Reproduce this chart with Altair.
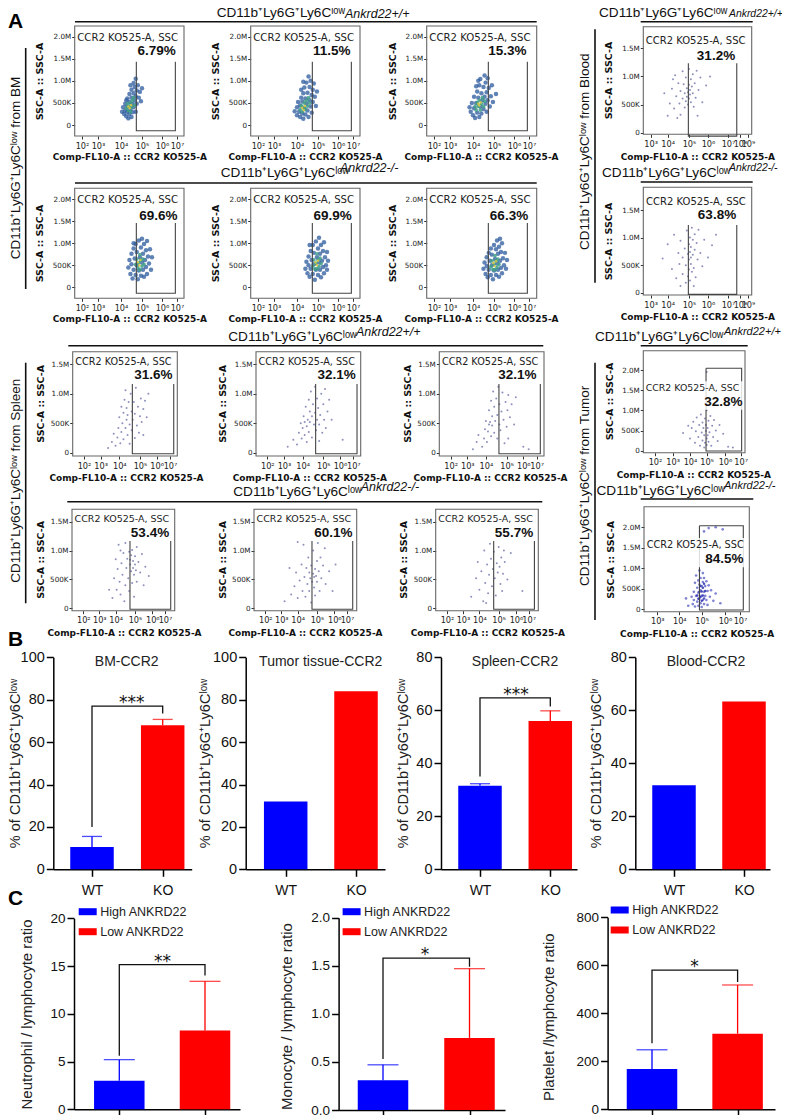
import altair as alt

SANS = "Liberation Sans"
FLOW = "DejaVu Sans"
CELL = "CD11b⁺Ly6G⁺Ly6Cˡᵒʷ"

# ---------- values ----------
# flow cytometry: (log10 CCR2 signal, SSC in thousands)
BM_WT1_LOW = [(4.05,300),(4.1,400),(4.15,250),(4.2,330),(4.2,480),(4.25,200),(4.3,300),(4.3,420),(4.3,600),(4.35,150),(4.4,250),(4.4,520),(4.4,700),(4.45,350),(4.5,180),(4.5,620),(4.5,800),(4.55,290),(4.55,480),(4.6,400),(4.6,720),(4.6,950),(4.65,560),(4.65,860),(4.7,300),(4.7,650),(4.7,1050),(4.75,480),(4.75,780),(4.8,900),(4.85,620),(4.9,750),(4.95,540),(5.0,830),(4.25,560),(4.45,900)]
BM_WT1_MID = [(4.25,380),(4.3,480),(4.35,330),(4.4,420),(4.45,300),(4.45,500),(4.5,400),(4.55,560),(4.6,620),(4.65,450)]
BM_WT1_CORE = [(4.35,420),(4.42,380),(4.48,450)]
BM_WT2_LOW = [(3.9,310),(4.0,220),(4.0,400),(4.05,520),(4.1,300),(4.15,180),(4.15,440),(4.2,620),(4.25,260),(4.25,530),(4.3,140),(4.3,720),(4.35,380),(4.35,850),(4.4,240),(4.4,600),(4.45,480),(4.45,960),(4.5,330),(4.5,730),(4.55,1100),(4.55,180),(4.6,560),(4.6,860),(4.65,420),(4.65,1000),(4.7,680),(4.7,280),(4.75,800),(4.75,520),(4.8,940),(4.85,640),(4.2,800),(4.9,430),(4.95,760),(4.3,980)]
BM_WT2_MID = [(4.15,350),(4.2,440),(4.25,300),(4.3,400),(4.35,500),(4.4,350),(4.45,560),(4.5,430),(4.55,620),(4.6,500)]
BM_WT2_CORE = [(4.25,390),(4.32,340),(4.38,430)]
BM_WT3_LOW = [(3.85,400),(3.9,300),(3.95,500),(4.0,220),(4.05,380),(4.05,640),(4.1,160),(4.15,500),(4.2,280),(4.2,760),(4.25,620),(4.3,180),(4.3,900),(4.35,420),(4.35,1040),(4.4,720),(4.4,260),(4.45,560),(4.5,860),(4.5,360),(4.55,1120),(4.55,640),(4.6,480),(4.6,960),(4.65,300),(4.65,740),(4.7,560),(4.7,1060),(4.75,840),(4.8,420),(4.85,650),(4.9,900),(4.95,520),(5.1,700),(4.15,880),(4.25,1000)]
BM_WT3_MID = [(4.1,420),(4.15,340),(4.2,500),(4.25,420),(4.3,560),(4.35,340),(4.4,480),(4.45,620),(4.5,420),(4.55,540)]
BM_WT3_CORE = [(4.25,480),(4.3,440),(4.37,510)]
BM_KO1_LOW = [(4.35,450),(4.4,620),(4.45,300),(4.5,520),(4.5,760),(4.55,200),(4.6,400),(4.6,880),(4.65,650),(4.7,280),(4.7,980),(4.75,500),(4.75,800),(4.8,180),(4.85,380),(4.85,1060),(4.9,680),(4.95,260),(4.95,900),(5.0,560),(5.0,1100),(5.05,400),(5.05,760),(5.1,240),(5.1,980),(5.15,620),(5.2,460),(5.2,840),(5.25,300),(5.25,1050),(5.3,700),(5.35,540),(5.4,860),(5.45,400),(5.5,680),(4.6,1000)]
BM_KO1_MID = [(4.7,520),(4.75,640),(4.8,440),(4.85,560),(4.9,400),(4.9,740),(4.95,620),(5.0,480),(5.05,640),(5.1,520)]
BM_KO1_CORE = [(4.8,570),(4.87,500),(4.93,620)]
BM_KO2_LOW = [(4.4,420),(4.45,580),(4.5,320),(4.55,500),(4.55,700),(4.6,240),(4.65,420),(4.65,820),(4.7,620),(4.75,300),(4.75,960),(4.8,520),(4.8,780),(4.85,170),(4.9,400),(4.9,1040),(4.95,680),(5.0,280),(5.0,880),(5.05,560),(5.05,1120),(5.1,400),(5.1,760),(5.15,230),(5.15,960),(5.2,600),(5.25,460),(5.25,820),(5.3,320),(5.3,1020),(5.35,680),(5.4,500),(5.45,800),(5.5,600),(4.6,960),(5.45,400)]
BM_KO2_MID = [(4.75,480),(4.8,620),(4.85,420),(4.9,540),(4.95,420),(4.95,760),(5.0,620),(5.05,470),(5.1,660),(5.15,540)]
BM_KO2_CORE = [(4.88,560),(4.95,500),(5.0,600)]
BM_KO3_LOW = [(4.5,420),(4.55,560),(4.6,300),(4.65,480),(4.65,680),(4.7,230),(4.75,400),(4.75,780),(4.8,600),(4.85,280),(4.85,880),(4.9,500),(4.9,740),(4.95,180),(5.0,380),(5.0,960),(5.05,640),(5.1,280),(5.1,860),(5.15,540),(5.15,1060),(5.2,400),(5.2,760),(5.25,240),(5.25,920),(5.3,600),(5.35,440),(5.35,800),(5.4,320),(5.4,1000),(5.45,660),(5.5,500),(5.55,780),(5.6,420),(5.65,620),(5.3,1100)]
BM_KO3_MID = [(4.85,460),(4.9,600),(4.95,400),(5.0,520),(5.05,400),(5.05,720),(5.1,600),(5.15,450),(5.2,640),(5.25,520)]
BM_KO3_CORE = [(4.97,550),(5.03,480),(5.1,590)]
BLOOD_WT = [(4.0,300),(4.1,520),(4.2,780),(4.3,430),(4.35,1020),(4.4,650),(4.45,260),(4.5,880),(4.55,520),(4.6,740),(4.6,320),(4.7,1090),(4.7,610),(4.75,860),(4.8,450),(4.8,700),(4.85,980),(4.85,560),(4.9,790),(4.9,640),(4.95,720),(4.95,500),(5.0,850),(5.0,610),(5.0,1130),(5.05,760),(5.05,680),(5.1,540),(5.1,950),(5.15,820),(5.2,1040),(5.2,700),(5.25,460),(5.3,880),(5.35,620),(5.4,1100),(5.5,760),(5.6,980),(5.7,540),(5.9,840),(6.1,1000),(3.8,700),(4.25,950),(5.45,300)]
BLOOD_KO = [(3.7,620),(4.0,880),(4.2,430),(4.3,1050),(4.4,260),(4.5,720),(4.55,520),(4.6,940),(4.7,340),(4.7,640),(4.8,800),(4.85,180),(4.85,500),(4.9,1130),(4.95,700),(4.95,300),(5.0,880),(5.0,420),(5.0,600),(5.05,1000),(5.05,740),(5.05,220),(5.1,520),(5.1,830),(5.1,640),(5.15,380),(5.15,1180),(5.2,960),(5.2,690),(5.25,450),(5.3,1060),(5.3,780),(5.35,280),(5.4,900),(5.45,600),(5.5,1140),(5.6,720),(5.7,480),(5.8,960),(6.0,640),(6.2,860),(6.4,1050),(4.6,120),(5.25,120)]
SPL_WT1 = [(3.4,80),(3.6,180),(3.7,320),(3.8,120),(3.9,260),(3.95,420),(4.0,600),(4.05,160),(4.1,350),(4.1,780),(4.15,500),(4.2,230),(4.2,680),(4.25,900),(4.3,420),(4.3,1060),(4.35,560),(4.35,760),(4.4,300),(4.4,640),(4.45,860),(4.5,150),(4.5,480),(4.55,1000),(4.6,700),(4.6,380),(4.65,560),(4.7,860),(4.75,250),(4.75,660),(4.8,1100),(4.85,460),(4.9,780),(4.95,340),(5.0,620),(5.05,920),(5.1,520),(5.2,740),(5.3,880),(5.4,600),(5.5,1000),(5.2,300)]
SPL_WT2 = [(3.2,100),(3.5,220),(3.7,140),(3.8,340),(3.9,500),(3.95,240),(4.0,420),(4.05,620),(4.1,300),(4.1,520),(4.15,780),(4.2,180),(4.2,450),(4.25,560),(4.3,900),(4.3,350),(4.35,700),(4.35,520),(4.4,1040),(4.45,260),(4.45,620),(4.5,820),(4.55,480),(4.6,1120),(4.6,680),(4.65,380),(4.7,560),(4.7,920),(4.75,760),(4.8,200),(4.8,480),(4.85,640),(4.9,1000),(4.95,340),(5.0,820),(5.05,560),(5.1,1080),(5.15,420),(5.25,700),(5.35,900),(5.5,560),(6.2,220)]
SPL_WT3 = [(3.3,60),(3.5,180),(3.6,300),(3.8,100),(3.9,240),(3.95,400),(4.0,540),(4.05,180),(4.1,360),(4.15,480),(4.15,720),(4.2,520),(4.25,280),(4.25,880),(4.3,460),(4.3,620),(4.35,1040),(4.4,340),(4.4,780),(4.45,540),(4.5,920),(4.55,240),(4.55,640),(4.6,1120),(4.65,480),(4.65,820),(4.7,380),(4.75,700),(4.8,1020),(4.85,560),(4.9,160),(4.95,860),(5.0,440),(5.05,720),(5.1,980),(5.2,600),(5.3,820),(5.45,480),(5.55,940),(5.1,240),(6.0,100),(6.4,60)]
SPL_KO1 = [(3.6,320),(3.8,180),(3.9,520),(4.0,850),(4.05,320),(4.1,680),(4.15,1100),(4.2,460),(4.25,240),(4.3,780),(4.35,580),(4.4,960),(4.45,120),(4.5,400),(4.5,1130),(4.55,700),(4.6,860),(4.65,520),(4.7,980),(4.7,300),(4.75,760),(4.75,840),(4.8,640),(4.8,920),(4.85,1010),(4.85,440),(4.9,700),(4.9,820),(4.95,580),(4.95,200),(5.0,760),(5.0,900),(5.05,660),(5.1,460),(5.1,1060),(5.2,800),(5.3,620),(5.4,940),(5.5,400),(5.6,720),(5.8,560),(4.25,1000)]
SPL_KO2 = [(3.2,120),(3.6,240),(3.8,380),(3.9,620),(4.0,180),(4.1,480),(4.2,760),(4.25,300),(4.3,1100),(4.35,540),(4.4,200),(4.45,700),(4.5,420),(4.55,880),(4.6,620),(4.6,300),(4.65,520),(4.7,740),(4.7,100),(4.75,460),(4.8,600),(4.8,1000),(4.85,540),(4.85,360),(4.9,680),(4.9,220),(4.95,560),(5.0,820),(5.0,460),(5.05,1130),(5.1,640),(5.15,300),(5.2,880),(5.25,520),(5.35,740),(5.45,1040),(5.5,420),(5.7,640),(5.9,300),(6.1,760),(4.0,1150),(3.5,700)]
SPL_KO3 = [(3.5,200),(3.8,520),(3.9,800),(4.0,320),(4.1,640),(4.2,120),(4.25,1000),(4.3,440),(4.4,760),(4.45,260),(4.5,580),(4.55,1120),(4.6,860),(4.65,380),(4.7,680),(4.75,980),(4.8,520),(4.85,220),(4.9,780),(4.95,620),(5.0,1060),(5.05,720),(5.1,420),(5.15,880),(5.2,300),(5.25,600),(5.35,800),(5.5,500),(5.7,960),(6.5,300),(4.35,90),(5.3,1000)]
TUM_WT = [(3.6,440),(3.9,620),(4.0,300),(4.1,560),(4.2,720),(4.3,200),(4.35,480),(4.4,820),(4.5,340),(4.55,640),(4.6,120),(4.65,900),(4.7,450),(4.75,250),(4.75,700),(4.8,560),(4.85,80),(4.85,380),(4.9,800),(4.9,200),(4.95,490),(4.95,640),(5.0,300),(5.0,1000),(5.0,140),(5.05,560),(5.05,380),(5.1,740),(5.1,220),(5.15,460),(5.2,860),(5.25,120),(5.3,620),(5.35,340),(5.4,760),(5.5,500),(5.6,240),(5.7,640),(5.9,420),(6.2,100),(6.5,80),(5.0,1950)]
TUM_KO_LOW = [(4.55,300),(4.6,120),(4.65,420),(4.65,220),(4.7,640),(4.7,60),(4.75,320),(4.75,820),(4.8,520),(4.8,180),(4.85,700),(4.85,400),(4.85,80),(4.9,260),(4.9,600),(4.9,940),(4.95,460),(4.95,140),(4.95,760),(5.0,320),(5.0,560),(5.0,50),(5.05,660),(5.05,220),(5.05,880),(5.1,420),(5.1,120),(5.1,760),(5.15,320),(5.15,560),(5.2,220),(5.2,680),(5.25,440),(5.25,100),(5.3,580),(5.35,300),(5.4,460),(5.5,200),(5.6,380),(5.8,140),(4.3,260),(4.4,80),(5.3,1980),(5.6,2000),(5.9,1950),(5.1,1900)]
TUM_KO_MID = [(4.8,330),(4.85,250),(4.9,420),(4.95,300),(4.95,560),(5.0,200),(5.0,430),(5.05,330),(5.05,520),(5.1,260),(5.1,620),(5.15,440)]

GATE_BM = (4.73, 6.89)
GATES = {
    "bm1": (-130, 1430), "bm2": (-135, 1457), "bl1": (-60, 1233), "bl2": (-30, 1228),
    "sp1": (-17, 1166), "sp2": (-17, 1166), "tu1": (-7, 2042), "tu2": (-24, 2039),
}
PCT = ["6.79%", "11.5%", "15.3%", "69.6%", "69.9%", "66.3%", "31.2%", "63.8%",
       "31.6%", "32.1%", "32.1%", "53.4%", "60.1%", "55.7%", "32.8%", "84.5%"]

B_TITLES = ["BM-CCR2", "Tumor tissue-CCR2", "Spleen-CCR2", "Blood-CCR2"]
B_WT = [10.5, 32, 31.5, 31.7]
B_KO = [68, 84, 56, 63.3]
B_WT_ERR = [15.5, None, 32.3, None]
B_KO_ERR = [70.7, None, 59.8, None]
C_TITLES = ["Neutrophil / lymphocyte ratio", "Monocyte / lymphocyte ratio", "Platelet /lymphocyte ratio"]
C_HIGH = [3.0, 0.31, 168]
C_LOW = [8.25, 0.75, 315]
C_HIGH_ERR = [5.2, 0.47, 248]
C_LOW_ERR = [13.4, 1.47, 518]

W, H = 774, 1107
layers = []


def px(v):
    return v - 8


def txt(s, x, y, size=13, font=SANS, weight="normal", style="normal", align="left", angle=0, color="#111"):
    return alt.Chart(alt.Data(values=[{"t": s}])).mark_text(
        fontSize=size, font=font, fontWeight=weight, fontStyle=style, align=align,
        baseline="middle", angle=angle, color=color,
    ).encode(text="t:N", x=alt.value(px(x)), y=alt.value(px(y)))


def hline(x0, x1, y):
    return alt.Chart(alt.Data(values=[{"a": 1}])).mark_rule(color="#111", strokeWidth=1.6).encode(
        x=alt.value(px(x0)), x2=alt.value(px(x1)), y=alt.value(px(y)))


def vline(x, y0, y1):
    return alt.Chart(alt.Data(values=[{"a": 1}])).mark_rule(color="#111", strokeWidth=1.6).encode(
        x=alt.value(px(x)), y=alt.value(px(y0)), y2=alt.value(px(y1)))


def heading(x0, xi, y, tag, line, isize=12.5):
    layers.append(txt(CELL, x0, y, size=13.6))
    layers.append(txt("Ankrd22" + tag, xi, max(y - 5, 14), size=isize, style="italic"))
    layers.append(hline(*line))


def flow(L, R, T, B, y0, ytop, yv, xvals, xrel, ds, gate_x, gate_y, pct, lab, pcp, xtitle, ytitle, box=False):
    lo = xvals[0] - xrel[0] / (xrel[1] - xrel[0])
    hi = xvals[-1] + (R - L - xrel[-1]) / (xrel[-1] - xrel[-2])
    xs = alt.Scale(domain=[lo] + xvals + [hi], range=[px(L)] + [px(L + r) for r in xrel] + [px(R)])
    per = (y0 - ytop) / yv
    ydom = [(y0 - B) / per, (y0 - T) / per]
    ys = alt.Scale(domain=ydom, range=[px(B), px(T)], nice=False, zero=False)
    supers = "['⁰','¹','²','³','⁴','⁵','⁶','⁷','⁸','⁹'][datum.value]"
    xaxis = alt.Axis(orient="bottom", offset=px(B) - H, values=xvals, labelExpr="'10' + " + supers,
                     labelFont=FLOW, labelFontSize=8.2, labelColor="#222", tickSize=3, tickColor="#333",
                     domain=False, grid=False, labelPadding=3, labelOverlap=False,
                     title="Comp-FL10-A :: CCR2 KO525-A", titleFont=FLOW, titleFontSize=9, titleFontWeight="bold",
                     titleColor="#111", titleX=px(xtitle[0]), titleY=xtitle[1] - B, titleBaseline="middle", titleAlign="center")
    yvals = [v for v in [0, 500, 1000, 1500, 2000] if v <= ydom[1]]
    yaxis = alt.Axis(orient="left", offset=-px(L), values=yvals,
                     labelExpr="datum.value == 0 ? '0' : datum.value == 500 ? '500K' : format(datum.value / 1000, '.1f') + 'M'",
                     labelFont=FLOW, labelFontSize=7.2, labelColor="#222", tickSize=3, tickColor="#333",
                     domain=False, grid=False, labelPadding=1,
                     title="SSC-A :: SSC-A", titleFont=FLOW, titleFontSize=9.5, titleFontWeight="bold", titleColor="#111",
                     titleX=ytitle[0] - L, titleY=px(ytitle[1]), titleBaseline="middle", titleAlign="center")
    X = lambda f, a=None: alt.X(f + ":Q", scale=xs, axis=a)
    Y = lambda f, a=None: alt.Y(f + ":Q", scale=ys, axis=a)
    panel = []
    frame = alt.Chart(alt.Data(values=[{"x": lo, "x2": hi, "y": ydom[0], "y2": ydom[1]}])).mark_rect(
        fillOpacity=0, stroke="#666", strokeWidth=1.1
    ).encode(x=X("x", xaxis), x2="x2:Q", y=Y("y", yaxis), y2="y2:Q")
    panel.append(frame)
    for pts, color, size, op in ds:
        panel.append(alt.Chart(alt.Data(values=[{"x": a, "y": b} for a, b in pts])).mark_circle(
            size=size, color=color, opacity=op).encode(x=X("x"), y=Y("y")))
    if box:
        g = [(gate_x[0], gate_y[1]), (gate_x[0], gate_y[0]), (gate_x[1], gate_y[0]), (gate_x[1], gate_y[1]), (gate_x[0], gate_y[1])]
    else:
        g = [(gate_x[0], gate_y[1]), (gate_x[0], gate_y[0]), (gate_x[1], gate_y[0]), (gate_x[1], gate_y[1])]
    panel.append(alt.Chart(alt.Data(values=[{"x": a, "y": b, "i": i} for i, (a, b) in enumerate(g)])).mark_line(
        color="#444", strokeWidth=1.1).encode(x=X("x"), y=Y("y"), order="i:Q"))
    if box:
        panel.append(alt.Chart(alt.Data(values=[{"a": 1}])).mark_rect(color="white", opacity=0.82).encode(
            x=alt.value(px(lab[0])), x2=alt.value(px(R - 1)), y=alt.value(px(lab[1] - 7)), y2=alt.value(px(pcp[1] + 8))))
    layers.extend(panel)
    layers.append(txt("CCR2 KO525-A, SSC", lab[0], lab[1], size=(R - L) * 0.0925, font=FLOW, color="#222"))
    layers.append(txt(pct, pcp[0], pcp[1], size=13.5, weight="bold", align="center"))


LOW, MID, CORE, SPARSE = "#2b5a9e", "#3f9f86", "#d8c640", "#7f84b4"
def dense(low, mid, core):
    return [(low, LOW, 20, 0.75), (mid, MID, 14, 0.85), (core, CORE, 6, 0.9)]
def sparse(p):
    return [(p, SPARSE, 4, 0.9)]

X2 = [2, 3, 4, 5, 6, 7]
BMREL = [7.3, 23.3, 46.3, 67.3, 87.3, 102.3]
row1 = [(74.7, 184), (250.7, 360), (426.7, 536.7)]
sets1 = [(BM_WT1_LOW, BM_WT1_MID, BM_WT1_CORE), (BM_WT2_LOW, BM_WT2_MID, BM_WT2_CORE), (BM_WT3_LOW, BM_WT3_MID, BM_WT3_CORE)]
sets2 = [(BM_KO1_LOW, BM_KO1_MID, BM_KO1_CORE), (BM_KO2_LOW, BM_KO2_MID, BM_KO2_CORE), (BM_KO3_LOW, BM_KO3_MID, BM_KO3_CORE)]
pc1 = [156.7, 331.7, 507.3]
pc2 = [158.3, 332.7, 509]
ytx = [39.3, 215.7, 392]
xtx = [129.3, 305, 481]
for i, (L, R) in enumerate(row1):
    flow(L, R, 26, 136, 125, 36.7, 2000, X2, BMREL, dense(*sets1[i]), GATE_BM, GATES["bm1"], PCT[i],
         (L + 2.6, 37.7), (pc1[i], 51), (xtx[i], 156.7), (ytx[i], 81))
    flow(L, R, 188.3, 298.3, 287.3, 199, 2000, X2, BMREL, dense(*sets2[i]), GATE_BM, GATES["bm2"], PCT[i + 3],
         (L + 2.6, 200), (pc2[i], 216), (xtx[i], 318), (ytx[i], 243))

X3 = [3, 4, 5, 6, 7, 8, 9]
BLREL = [7.4, 24.4, 45.7, 64.7, 84.7, 96.7, 104.7]
flow(643.3, 751.7, 26.7, 134.3, 132.7, 48.3, 1500, X3, BLREL, sparse(BLOOD_WT), (4.97, 7.73), GATES["bl1"], PCT[6],
     (645.7, 40.7), (716, 55.7), (697.3, 156.7), (608, 80))
flow(643.3, 751.7, 187.3, 295, 292.7, 210, 1500, X3, BLREL, sparse(BLOOD_KO), (4.97, 7.73), GATES["bl2"], PCT[7],
     (646, 201.7), (717, 215), (697.3, 316.7), (608, 241))

SP1 = [11.3, 28, 46.6, 67.3, 84, 97.3]
SP2 = [11.3, 27.3, 43.7, 63, 80.3, 93]
sp1 = [(72.7, 177.3), (256, 360.7), (439.3, 544)]
sp2 = [(72, 174.7), (254, 356.7), (435.7, 538.3)]
s1 = [SPL_WT1, SPL_WT2, SPL_WT3]
s2 = [SPL_KO1, SPL_KO2, SPL_KO3]
pc3 = [153.3, 336.7, 517.3]
pc4 = [150, 333.3, 514]
xt3 = [126, 309.3, 490]
xt4 = [124, 305, 487.3]
yt3 = [40.7, 222.7, 407]
yt4 = [40, 222, 403.3]
for i in range(3):
    flow(sp1[i][0], sp1[i][1], 351.7, 456, 452.7, 364.3, 1500, X2, SP1, sparse(s1[i]), (4.63, 7.28), GATES["sp1"], PCT[8 + i],
         (sp1[i][0] + 2.6, 362.3), (pc3[i], 375), (xt3[i], 477.3), (yt3[i], 403.3))
    flow(sp2[i][0], sp2[i][1], 509.3, 610.7, 608.3, 521.7, 1500, X2, SP2, sparse(s2[i]), (4.74, 7.45), GATES["sp2"], PCT[11 + i],
         (sp2[i][0] + 2.6, 519.3), (pc4[i], 533.3), (xt4[i], 632.3), (yt4[i], 559.3))

flow(643.3, 745, 350.7, 452.7, 450.7, 370, 2000, X2, [11.7, 29.4, 46.7, 63.4, 81.7, 97.4], sparse(TUM_WT), (4.96, 7.06), GATES["tu1"], PCT[14],
     (645.7, 388.3), (723.3, 401.7), (693.3, 474), (609.3, 401), box=True)
flow(644, 749.3, 506.7, 611.7, 609, 527.3, 2000, [3, 4, 5, 6, 7], [13.3, 35.3, 57.7, 81, 96],
     [(TUM_KO_LOW, "#6a6fc8", 7, 0.85), (TUM_KO_MID, "#2a2fb0", 6, 0.85)], (4.9, 7.22), GATES["tu2"], PCT[15],
     (646.7, 545), (724.3, 559.3), (696.7, 633.3), (610, 559.3), box=True)

heading(216.7, 345, 13, "+/+", (75, 536.7, 21.7))
heading(220.7, 340, 173.3, "-/-", (75, 536.7, 183))
heading(599, 729, 13.3, "+/+", (640.7, 752.7, 21.7), 10.4)
heading(602, 729, 172.7, "-/-", (640.7, 752.7, 182), 10.4)
heading(228.3, 356, 336.7, "+/+", (68.3, 543.3, 345.7))
heading(233.3, 360.7, 492.3, "-/-", (67.3, 542.3, 501.7))
heading(595, 724, 336.7, "+/+", (640.7, 747.7, 345.7), 11)
heading(596.5, 724, 490.7, "-/-", (640.7, 753.3, 499), 11)

for x, y0, y1 in [(25.7, 48, 289), (595, 29.3, 282.7), (25.7, 362.7, 603.3), (595, 362.7, 620)]:
    layers.append(vline(x, y0, y1))
for s, x, y in [("from BM", 15.5, 168), ("from Blood", 585, 151.7), ("from Spleen", 15.5, 480.8), ("from Tumor", 585, 485.8)]:
    layers.append(txt(CELL + " " + s, x, y, size=13.5, angle=270, align="center"))
for s, y in [("A", 22), ("B", 640), ("C", 899)]:
    layers.append(txt(s, 8, y, size=21, weight="bold", color="black"))


def bars(cats, vals, errs, x_l, x_r, ticks, y0, ytop, ymax, yvals, width, cap, bracket, star, ytitle, labels, lsize, tsize):
    step = ticks[1] - ticks[0]
    pad_total = (x_r - x_l) - step
    xs = alt.Scale(type="point", domain=cats, range=[px(x_l), px(x_r)],
                   padding=pad_total / 2 / step, align=(ticks[0] - x_l) / pad_total)
    ys = alt.Scale(domain=[0, ymax], range=[px(y0), px(ytop)], nice=False)
    xaxis = alt.Axis(orient="bottom", offset=px(y0) - H, title=None, labels=labels, labelFont=SANS, labelFontSize=14,
                     labelColor="#111", labelPadding=7, labelAngle=0, tickSize=7, tickWidth=1.5, tickColor="black",
                     domainWidth=1.5, domainColor="black", grid=False)
    yaxis = alt.Axis(orient="left", offset=-px(x_l), values=yvals, labelFont=SANS, labelFontSize=lsize, labelColor="#111",
                     tickSize=7, tickWidth=1.5, tickColor="black", domainWidth=1.5, domainColor="black", grid=False,
                     labelPadding=2, title=ytitle[0], titleFont=SANS, titleFontSize=tsize, titleFontWeight="normal", titleColor="#222",
                     titleX=ytitle[1] - x_l, titleY=px(ytitle[2]), titleBaseline="middle", titleAlign="center")
    panel = []
    for i, color in enumerate(["#0000ff", "#ff0000"]):
        d = alt.Data(values=[{"c": cats[i], "v": vals[i], "e": errs[i]}])
        X = alt.X("c:N", scale=xs, axis=xaxis if i == 0 else None)
        panel.append(alt.Chart(d).mark_bar(size=width, color=color).encode(
            x=X, y=alt.Y("v:Q", scale=ys, axis=yaxis if i == 0 else None)))
        if errs[i] is not None:
            X0 = alt.X("c:N", scale=xs, axis=None)
            panel.append(alt.Chart(d).mark_rule(color=color, strokeWidth=1.3).encode(
                x=X0, y=alt.Y("e:Q", scale=ys, axis=None), y2="v:Q"))
            panel.append(alt.Chart(d).mark_tick(color=color, size=cap, thickness=1.3, orient="horizontal").encode(
                x=X0, y=alt.Y("e:Q", scale=ys, axis=None)))
    if bracket:
        path = [(cats[0], bracket[0]), (cats[0], bracket[1]), (cats[1], bracket[1]), (cats[1], bracket[2])]
        panel.append(alt.Chart(alt.Data(values=[{"c": c, "v": v, "i": j} for j, (c, v) in enumerate(path)])).mark_line(
            color="#111", strokeWidth=1.3).encode(x=alt.X("c:N", scale=xs, axis=None),
                                                 y=alt.Y("v:Q", scale=ys, axis=None), order="i:Q"))
    layers.extend(panel)
    if star:
        layers.append(txt(star[0], star[1], star[2], size=17, align="center", font="DejaVu Sans", color="#111"))


YB = "% of " + CELL
bx = [(53.3, 191.7, (92, 162.7)), (245.7, 385, (285.7, 356)), (441, 577, (480, 550.3)), (635.3, 770, (674, 744))]
yt = [15.5, 205, 403.3, 596.7]
brk = [(20, 77, 73.5), None, (35, 64.7, 61.4), None]
st = [("***", 131.7, 703), None, ("***", 516, 695), None]
tc = [126.7, 320.7, 515, 706]
for i in range(4):
    ymax = 100 if i < 2 else 80
    vals = [0, 20, 40, 60, 80, 100] if i < 2 else [0, 20, 40, 60, 80]
    bars(["WT", "KO"], [B_WT[i], B_KO[i]], [B_WT_ERR[i], B_KO_ERR[i]], bx[i][0], bx[i][1], bx[i][2], 869.3, 657.3, ymax, vals,
         43.5, 20, brk[i], st[i], (YB, yt[i], 763), True, 14.5, 14.5)
    layers.append(txt(B_TITLES[i], tc[i], 661.7, size=14, align="center", color="#222"))

cx = [(74, 240, (119.3, 205)), (338.6, 505, (383, 469.5)), (607.6, 775, (652, 737.6))]
cy = [(1109.3, 918.3, 20, [0, 5, 10, 15, 20]), (1110, 917.7, 2.0, [0, 0.5, 1.0, 1.5, 2.0]), (1109.3, 917.3, 800, [0, 200, 400, 600, 800])]
cbr = [(5.6, 15.15, 14), (0.53, 1.58, 1.49), (275, 580, 530)]
cst = [("**", 162.4, 962), ("*", 425, 955), ("*", 694.4, 967)]
ct = [(26.4, 1014), (286.8, 1016), (548, 1016.7)]
leg = [(78.7, 911.7, 931.7), (342.6, 911.7, 931.7), (610.7, 910, 930)]
for i in range(3):
    axis_vals = cy[i][3]
    bars(["High", "Low"], [C_HIGH[i], C_LOW[i]], [C_HIGH_ERR[i], C_LOW_ERR[i]], cx[i][0], cx[i][1], cx[i][2],
         cy[i][0], cy[i][1], cy[i][2], axis_vals, 50.5, 31, cbr[i], cst[i], (C_TITLES[i], ct[i][0], ct[i][1]), False, 13.5, 15)
    for name, y, color in [("High ANKRD22", leg[i][1], "#0000ff"), ("Low ANKRD22", leg[i][2], "#ff0000")]:
        layers.append(alt.Chart(alt.Data(values=[{"a": 1}])).mark_rect(color=color).encode(
            x=alt.value(px(leg[i][0])), x2=alt.value(px(leg[i][0] + 18)), y=alt.value(px(y - 3.5)), y2=alt.value(px(y + 3.5))))
        layers.append(txt(name, leg[i][0] + 21.5, y, size=12.5, color="#222"))

chart = alt.layer(*layers).resolve_scale(x="independent", y="independent").properties(
    width=W, height=H, autosize=alt.AutoSizeParams(type="none"), padding=0
).configure_view(stroke=None)

chart.save("out.html", embed_options={"renderer": "svg", "actions": False})
